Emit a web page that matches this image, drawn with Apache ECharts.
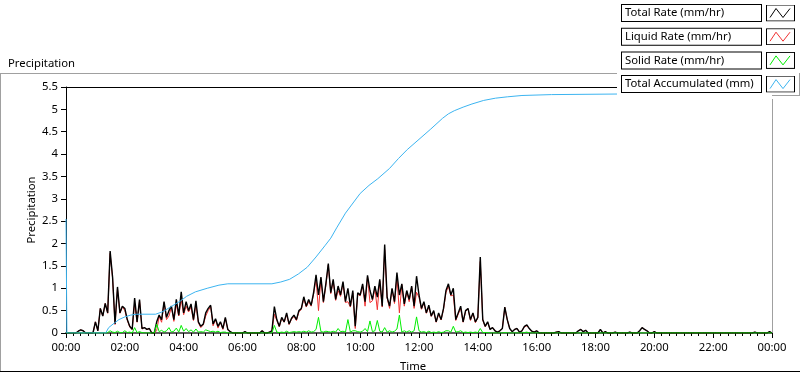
<!DOCTYPE html>
<html><head><meta charset="utf-8">
<script src="https://cdn.jsdelivr.net/npm/echarts@6/dist/echarts.min.js"></script>
<style>html,body{margin:0;padding:0;background:#fff}#c{width:800px;height:373px}</style>
</head><body><div id="c"></div>
<script>
// 5-minute samples starting at 00:00 (hours 0..23, 12 values per hour)
const stepMinutes = 5;
const totalRate = [
0,0,0,0,0,0.04,0.07,0.05,0,0,0,0,
0.25,0.05,0.55,0.38,0.66,0.45,1.83,1.25,0.2,1.03,0.45,0.6,
0.55,0.3,0.15,0.08,0.78,0.25,0.75,0.1,0.12,0.08,0.1,0,
0,0.25,0.4,0.3,0.7,0.35,0.5,0.6,0.3,0.75,0.4,0.92,
0.45,0.7,0.5,0.65,0.3,0.72,0.25,0.15,0.2,0.45,0.55,0.62,
0.2,0.32,0.15,0.25,0.1,0.35,0.08,0.03,0,0,0,0,
0,0.03,0,0,0,0,0,0,0.05,0,0,0.02,
0.05,0.59,0.3,0.15,0.35,0.25,0.45,0.2,0.33,0.4,0.3,0.5,
0.55,0.81,0.6,0.75,0.62,0.9,1.3,0.85,1.25,0.7,1.1,1.55,
0.9,1.2,0.75,1.05,0.85,1.15,0.7,1.0,0.6,0.95,0.15,0.9,
0.85,1.1,0.7,1.29,0.95,0.75,1.05,0.8,1.2,0.6,1.98,0.8,
0.6,1.0,0.7,1.35,0.85,1.1,0.65,0.95,0.75,1.05,0.6,1.27,
0.85,0.55,0.7,0.45,0.62,0.38,0.5,0.25,0.45,0.3,0.55,0.95,
1.1,0.85,1.0,0.3,0.45,0.6,0.25,0.5,0.55,0.3,0.45,0.25,
0.35,1.7,0.3,0.15,0.25,0.08,0.12,0.05,0.02,0.05,0.1,0.58,
0.3,0.1,0.03,0.08,0.1,0.02,0.05,0.15,0.18,0.1,0.04,0.02,
0.05,0,0,0,0,0,0,0,0.02,0.03,0,0,
0,0,0,0,0,0.05,0.08,0.03,0.06,0,0,0,
0,0,0.08,0,0.03,0,0,0,0.02,0,0,0,
0,0,0.02,0,0,0,0.05,0.12,0.08,0.05,0,0,
0.03,0,0,0,0,0,0,0,0,0,0,0,
0,0,0,0,0,0,0,0,0,0,0,0,
0,0,0,0,0,0,0,0,0,0,0,0,
0,0,0,0,0,0.02,0,0,0,0,0,0.03,
0];
const liquidRate = [
0,0,0,0,0,0.04,0.07,0.05,0,0,0,0,
0.25,0.05,0.55,0.38,0.66,0.44,1.78,1.23,0.19,0.99,0.44,0.59,
0.5,0.29,0.13,0.08,0.66,0.24,0.72,0.09,0.12,0.08,0.1,0,
0,0.05,0.37,0.24,0.68,0.3,0.38,0.58,0.26,0.64,0.38,0.75,
0.41,0.6,0.47,0.58,0.28,0.63,0.23,0.12,0.18,0.38,0.5,0.59,
0.16,0.3,0.11,0.24,0.08,0.33,0.08,0.03,0,0,0,0,
0,0.03,0,0,0,0,0,0,0.05,0,0,0.02,
0.05,0.42,0.28,0.14,0.33,0.24,0.41,0.19,0.31,0.37,0.28,0.47,
0.53,0.77,0.58,0.7,0.6,0.87,1.22,0.5,1.22,0.68,1.06,1.52,
0.88,1.16,0.73,0.95,0.82,1.11,0.68,0.7,0.58,0.9,0.1,0.87,
0.83,1.06,0.6,1.26,0.68,0.72,1.0,0.52,1.16,0.58,1.86,0.78,
0.55,0.98,0.66,1.26,0.45,1.08,0.6,0.93,0.7,1.03,0.55,0.91,
0.8,0.53,0.67,0.44,0.58,0.37,0.48,0.24,0.42,0.29,0.53,0.9,
1.05,0.83,0.85,0.28,0.42,0.55,0.24,0.48,0.54,0.28,0.44,0.23,
0.34,1.6,0.29,0.14,0.24,0.08,0.12,0.05,0.02,0.05,0.1,0.57,
0.3,0.1,0.03,0.08,0.1,0.02,0.05,0.14,0.16,0.1,0.04,0.02,
0.05,0,0,0,0,0,0,0,0.02,0.03,0,0,
0,0,0,0,0,0.05,0.08,0.03,0.06,0,0,0,
0,0,0.08,0,0.03,0,0,0,0.02,0,0,0,
0,0,0.02,0,0,0,0.05,0.12,0.08,0.05,0,0,
0.03,0,0,0,0,0,0,0,0,0,0,0,
0,0,0,0,0,0,0,0,0,0,0,0,
0,0,0,0,0,0,0,0,0,0,0,0,
0,0,0,0,0,0.02,0,0,0,0,0,0.03,
0];
const solidRate = [
0,0,0,0,0,0,0,0,0,0,0,0,
0,0,0,0,0,0.01,0.05,0.02,0.01,0.04,0.01,0.01,
0.05,0.01,0.02,0,0.12,0.01,0.03,0.01,0,0,0,0,
0,0.2,0.03,0.06,0.02,0.05,0.12,0.02,0.04,0.11,0.02,0.17,
0.04,0.1,0.03,0.07,0.02,0.09,0.02,0.03,0.02,0.07,0.05,0.03,
0.04,0.02,0.04,0.01,0.02,0.02,0,0,0,0,0,0,
0,0,0,0,0,0,0,0,0,0,0,0,
0,0.17,0.02,0.01,0.02,0.01,0.04,0.01,0.02,0.03,0.02,0.03,
0.02,0.04,0.02,0.05,0.02,0.03,0.08,0.35,0.03,0.02,0.04,0.03,
0.02,0.04,0.02,0.1,0.03,0.04,0.02,0.3,0.02,0.05,0.05,0.03,
0.02,0.04,0.1,0.03,0.27,0.03,0.05,0.28,0.04,0.02,0.12,0.02,
0.05,0.02,0.04,0.09,0.4,0.02,0.05,0.02,0.05,0.02,0.05,0.36,
0.05,0.02,0.03,0.01,0.04,0.01,0.02,0.01,0.03,0.01,0.02,0.05,
0.05,0.02,0.15,0.02,0.03,0.05,0.01,0.02,0.01,0.02,0.01,0.02,
0.01,0.1,0.01,0.01,0.01,0,0,0,0,0,0,0.01,
0,0,0,0,0,0,0,0.01,0.02,0,0,0,
0,0,0,0,0,0,0,0,0,0,0,0,
0,0,0,0,0,0,0,0,0,0,0,0,
0,0,0,0,0,0,0,0,0,0,0,0,
0,0,0,0,0,0,0,0,0,0,0,0,
0,0,0,0,0,0,0,0,0,0,0,0,
0,0,0,0,0,0,0,0,0,0,0,0,
0,0,0,0,0,0,0,0,0,0,0,0,
0,0,0,0,0,0,0,0,0,0,0,0,
0];
// Total accumulated (mm): sample times in hours and values
const accumHours = [0,0.03,1.35,1.45,1.6,1.8,2.0,2.2,2.4,3.05,3.3,3.6,3.9,4.1,4.4,4.8,5.2,5.5,7.0,7.3,7.6,7.9,8.2,8.5,8.8,9.0,9.2,9.5,10.0,10.3,10.6,11.0,11.3,11.6,12.0,12.4,12.8,13.0,13.2,13.5,13.8,14.2,14.6,15.0,15.5,16.5,20.0,24.0];
const accumValues = [2.55,0,0,0.12,0.2,0.3,0.36,0.4,0.42,0.42,0.48,0.6,0.72,0.82,0.92,1.0,1.07,1.1,1.1,1.14,1.2,1.32,1.47,1.7,1.95,2.12,2.35,2.68,3.12,3.3,3.45,3.68,3.9,4.1,4.33,4.56,4.8,4.9,4.97,5.05,5.12,5.2,5.25,5.28,5.31,5.33,5.35,5.36];
const seriesNames = ['Total Rate (mm/hr)','Liquid Rate (mm/hr)','Solid Rate (mm/hr)','Total Accumulated (mm)'];
const seriesColors = ['#000000','#f03232','#00ee00','#3cb4f0'];
const yTicks = [0,0.5,1,1.5,2,2.5,3,3.5,4,4.5,5,5.5];
const xLabelEveryHours = 2;

const FONT = 'Noto Sans';
const FS = 11.3;
function toPairs(arr){ return arr.map((v,i)=>[i*stepMinutes/60, v]); }
function iconFor(color){
  const svg = "<svg xmlns='http://www.w3.org/2000/svg' width='29' height='17'><rect x='0.5' y='0.5' width='28' height='16' fill='white' stroke='black'/><polyline points='4,13 10,4 17,13 24,4' fill='none' stroke='"+color+"' stroke-width='1'/></svg>";
  return 'image://data:image/svg+xml;charset=utf-8,' + encodeURIComponent(svg);
}
const chart = echarts.init(document.getElementById('c'), null, {renderer:'canvas'});
const option = {
  animation:false,
  backgroundColor:'#ffffff',
  title:{text:'Precipitation', left:3, top:53, textStyle:{fontFamily:FONT, fontSize:FS, fontWeight:'normal', color:'#000'}},
  legend:{
    orient:'vertical', right:0, top:0, align:'right',
    padding:[4,5,6,4], itemGap:5.7, itemWidth:29, itemHeight:17,
    backgroundColor:'#ffffff', z:20,
    data: seriesNames.map((n,k)=>({name:n, icon:iconFor(seriesColors[k])})),
    formatter: n => '{a|' + n + '}',
    textStyle:{fontFamily:FONT, fontSize:FS, color:'#000', borderColor:'#000', borderWidth:1, padding:[0,2,0,3], backgroundColor:'#fff',
      rich:{a:{width:134, height:16, align:'left', fontFamily:FONT, fontSize:FS, color:'#000'}}},
    selectedMode:false
  },
  grid:{left:66, right:28, top:87, bottom:40, show:false, outerBoundsMode:'none'},
  xAxis:{
    type:'value', min:0, max:24, interval:xLabelEveryHours,
    name:'Time', nameLocation:'middle', nameGap:28, nameMoveOverlap:false,
    nameTextStyle:{fontFamily:FONT, fontSize:FS, color:'#000', padding:[0,12,0,0]},
    axisLine:{show:true, lineStyle:{color:'#606060', width:2}},
    axisTick:{show:true, length:5, lineStyle:{color:'#000'}},
    minorTick:{show:true, splitNumber:8, length:3, lineStyle:{color:'#000'}},
    splitLine:{show:false},
    axisLabel:{fontFamily:FONT, fontSize:FS, color:'#000', margin:9,
      formatter:v=>{const h=Math.round(v)%24; return (h<10?'0':'')+h+':00';}}
  },
  yAxis:{
    type:'value', min:0, max:5.5, interval:0.5,
    name:'Precipitation', nameLocation:'middle', nameGap:29, nameRotate:90, nameMoveOverlap:false,
    nameTextStyle:{fontFamily:FONT, fontSize:FS, color:'#000'},
    axisLine:{show:true, lineStyle:{color:'#000', width:1}},
    axisTick:{show:true, length:5, lineStyle:{color:'#000'}},
    splitLine:{show:false},
    axisLabel:{fontFamily:FONT, fontSize:FS, color:'#000', margin:8, customValues: yTicks}
  },
  graphic:[
    {type:'line', shape:{x1:0,y1:73.5,x2:620,y2:73.5}, style:{stroke:'#a0a0a0', lineWidth:1}, z:1},
    {type:'line', shape:{x1:0.5,y1:73,x2:0.5,y2:372}, style:{stroke:'#a0a0a0', lineWidth:1}, z:1},
    {type:'line', shape:{x1:0,y1:371.5,x2:800,y2:371.5}, style:{stroke:'#000', lineWidth:1}, z:1},
    {type:'line', shape:{x1:66,y1:87.5,x2:620,y2:87.5}, style:{stroke:'#000', lineWidth:1}, z:1},
    {type:'line', shape:{x1:772.5,y1:95,x2:772.5,y2:333}, style:{stroke:'#a0a0a0', lineWidth:1}, z:1},
    {type:'line', shape:{x1:772,y1:95.5,x2:800,y2:95.5}, style:{stroke:'#a0a0a0', lineWidth:1}, z:100},
    {type:'line', shape:{x1:799.5,y1:73,x2:799.5,y2:96}, style:{stroke:'#a0a0a0', lineWidth:1}, z:100}
  ],
  series:[
    {name:seriesNames[0], type:'line', data:toPairs(totalRate), showSymbol:false, symbol:'none', z:3, lineStyle:{color:seriesColors[0], width:1.4}, itemStyle:{color:seriesColors[0]}},
    {name:seriesNames[1], type:'line', data:toPairs(liquidRate), showSymbol:false, symbol:'none', z:2, lineStyle:{color:seriesColors[1], width:1}, itemStyle:{color:seriesColors[1]}},
    {name:seriesNames[2], type:'line', data:toPairs(solidRate), showSymbol:false, symbol:'none', z:4, lineStyle:{color:seriesColors[2], width:1}, itemStyle:{color:seriesColors[2]}},
    {name:seriesNames[3], type:'line', data:accumHours.map((t,i)=>[t, accumValues[i]]), showSymbol:false, symbol:'none', z:5, lineStyle:{color:seriesColors[3], width:1}, itemStyle:{color:seriesColors[3]}}
  ]
};
chart.setOption(option);
</script></body></html>
